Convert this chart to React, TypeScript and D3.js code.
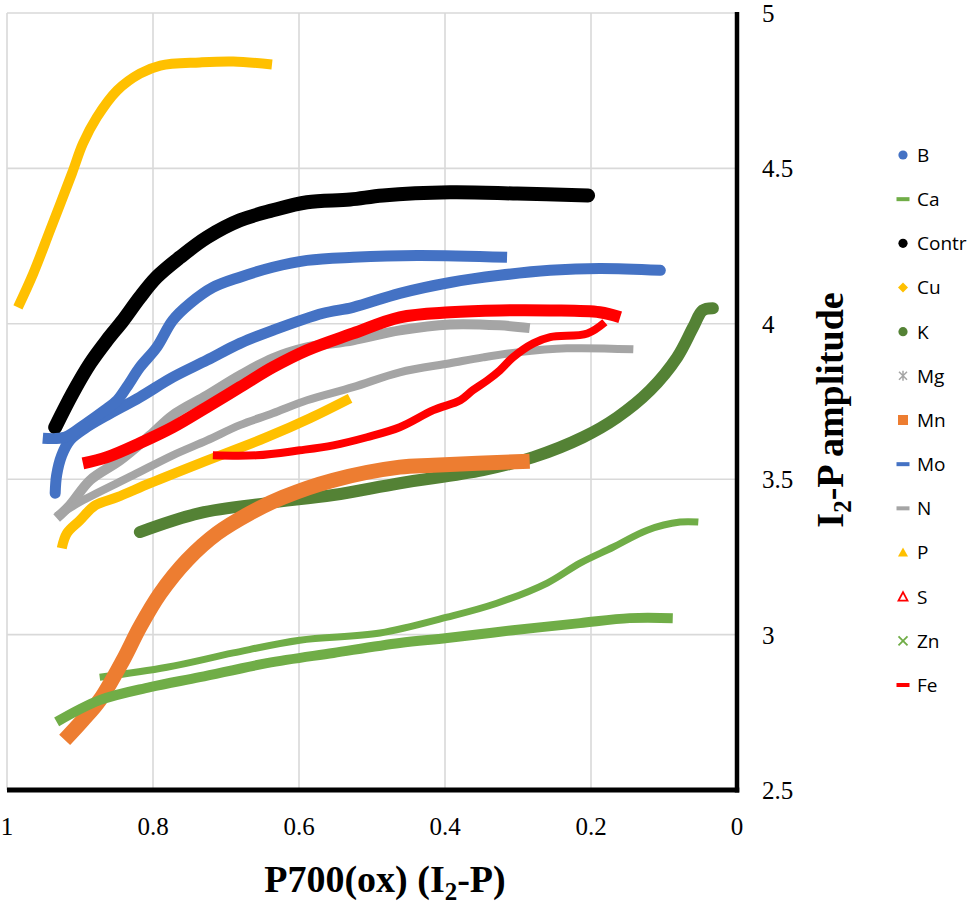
import React, { useEffect, useRef } from 'react';
import * as d3 from 'd3';

type Pt = [number, number];

// axis ticks
const xTicks = [1, 0.8, 0.6, 0.4, 0.2, 0];
const yTicks = [2.5, 3, 3.5, 4, 4.5, 5];

const seriesNames = ['B', 'Ca', 'Contr', 'Cu', 'K', 'Mg', 'Mn', 'Mo', 'N', 'P', 'S', 'Zn', 'Fe'];

// values: [P700(ox), I2-P amplitude]
const B: Pt[] = [
  [0.934, 3.455], [0.932, 3.513], [0.925, 3.577], [0.914, 3.625], [0.893, 3.664],
  [0.863, 3.706], [0.818, 3.764], [0.773, 3.828], [0.726, 3.883], [0.681, 3.937],
  [0.636, 3.979], [0.567, 4.034], [0.526, 4.053], [0.462, 4.098], [0.393, 4.133],
  [0.325, 4.156], [0.256, 4.172], [0.188, 4.178], [0.105, 4.172],
];
const Ca: Pt[] = [
  [0.873, 2.863], [0.781, 2.895], [0.690, 2.941], [0.599, 2.982], [0.489, 3.005],
  [0.397, 3.056], [0.329, 3.101], [0.260, 3.166], [0.215, 3.230], [0.170, 3.281],
  [0.123, 3.336], [0.078, 3.362], [0.053, 3.362],
];
const Contr: Pt[] = [
  [0.934, 3.667], [0.910, 3.777], [0.886, 3.873], [0.863, 3.947], [0.841, 4.011],
  [0.818, 4.085], [0.795, 4.150], [0.763, 4.214], [0.726, 4.278], [0.681, 4.333],
  [0.636, 4.365], [0.589, 4.391], [0.530, 4.400], [0.485, 4.413], [0.393, 4.423],
  [0.301, 4.419], [0.204, 4.413],
];
const Cu: Pt[] = [
  [0.925, 3.278], [0.918, 3.326], [0.900, 3.368], [0.879, 3.416], [0.849, 3.442],
  [0.804, 3.487], [0.736, 3.551], [0.644, 3.635], [0.585, 3.696], [0.530, 3.760],
];
const K: Pt[] = [
  [0.818, 3.330], [0.736, 3.391], [0.644, 3.423], [0.553, 3.449], [0.462, 3.487],
  [0.348, 3.529], [0.279, 3.571], [0.211, 3.635], [0.164, 3.699], [0.119, 3.786],
  [0.082, 3.892], [0.060, 3.989], [0.047, 4.043], [0.033, 4.050],
];
const Mg: Pt[] = [
  [0.932, 3.375], [0.914, 3.416], [0.886, 3.497], [0.845, 3.561], [0.804, 3.641],
  [0.773, 3.706], [0.726, 3.770], [0.681, 3.834], [0.636, 3.889], [0.589, 3.924],
  [0.526, 3.947], [0.462, 3.979], [0.393, 3.998], [0.325, 3.995], [0.284, 3.986],
];
const Mn: Pt[] = [
  [0.921, 2.661], [0.896, 2.725], [0.873, 2.789], [0.841, 2.918], [0.818, 3.024],
  [0.790, 3.133], [0.753, 3.240], [0.712, 3.326], [0.667, 3.391], [0.622, 3.442],
  [0.553, 3.497], [0.462, 3.539], [0.416, 3.545], [0.284, 3.558],
];
const Mo: Pt[] = [
  [0.951, 3.632], [0.921, 3.635], [0.893, 3.677], [0.866, 3.722], [0.849, 3.754],
  [0.836, 3.796], [0.818, 3.860], [0.795, 3.924], [0.773, 4.011], [0.749, 4.066],
  [0.718, 4.117], [0.681, 4.150], [0.636, 4.182], [0.589, 4.204], [0.526, 4.214],
  [0.438, 4.220], [0.315, 4.214],
];
const N: Pt[] = [
  [0.932, 3.381], [0.896, 3.432], [0.827, 3.513], [0.773, 3.577], [0.726, 3.625],
  [0.681, 3.674], [0.636, 3.712], [0.589, 3.754], [0.526, 3.796], [0.462, 3.844],
  [0.393, 3.873], [0.348, 3.892], [0.301, 3.908], [0.233, 3.921], [0.142, 3.918],
];
const P: Pt[] = [
  [0.985, 4.053], [0.964, 4.162], [0.941, 4.301], [0.911, 4.484], [0.896, 4.580],
  [0.877, 4.664], [0.849, 4.751], [0.818, 4.805], [0.790, 4.831], [0.736, 4.841],
  [0.690, 4.844], [0.637, 4.834],
];
const S: Pt[] = [
  [0.896, 3.551], [0.863, 3.571], [0.818, 3.616], [0.773, 3.667], [0.726, 3.732],
  [0.681, 3.796], [0.636, 3.860], [0.589, 3.915], [0.526, 3.969], [0.462, 4.021],
  [0.393, 4.037], [0.325, 4.043], [0.256, 4.043], [0.188, 4.037], [0.160, 4.021],
];
const Zn: Pt[] = [
  [0.932, 2.719], [0.873, 2.789], [0.804, 2.831], [0.736, 2.863], [0.644, 2.908],
  [0.553, 2.941], [0.462, 2.973], [0.397, 2.989], [0.307, 3.014], [0.215, 3.037],
  [0.147, 3.053], [0.088, 3.053],
];
const Fe: Pt[] = [
  [0.181, 4.005], [0.205, 3.969], [0.256, 3.957], [0.279, 3.937], [0.307, 3.892],
  [0.325, 3.850], [0.342, 3.818], [0.362, 3.786], [0.379, 3.754], [0.416, 3.722],
  [0.462, 3.667], [0.507, 3.635], [0.553, 3.609], [0.599, 3.593], [0.658, 3.577],
  [0.718, 3.577],
];

const seriesData: Record<string, Pt[]> = { B, Ca, Contr, Cu, K, Mg, Mn, Mo, N, P, S, Zn, Fe };

type Marker = 'circle' | 'dash' | 'diamond' | 'asterisk' | 'square' | 'triangle' | 'openTriangle' | 'cross';

const styles: Record<string, { color: string; width: number; marker: Marker }> = {
  B: { color: '#4472C4', width: 11, marker: 'circle' },
  Ca: { color: '#70AD47', width: 7, marker: 'dash' },
  Contr: { color: '#000000', width: 14, marker: 'circle' },
  Cu: { color: '#FFC000', width: 10, marker: 'diamond' },
  K: { color: '#548235', width: 12, marker: 'circle' },
  Mg: { color: '#A5A5A5', width: 10, marker: 'asterisk' },
  Mn: { color: '#ED7D31', width: 15, marker: 'square' },
  Mo: { color: '#4472C4', width: 11, marker: 'dash' },
  N: { color: '#A5A5A5', width: 8, marker: 'dash' },
  P: { color: '#FFC000', width: 10, marker: 'triangle' },
  S: { color: '#FF0000', width: 12, marker: 'openTriangle' },
  Zn: { color: '#70AD47', width: 10, marker: 'cross' },
  Fe: { color: '#FF0000', width: 8, marker: 'dash' },
};

const W = 975;
const H = 905;
const plot = { left: 7, right: 737, top: 13, bottom: 790 };
const serif = '"Liberation Serif", "Times New Roman", serif';
const sans = '"Open Sans", "Noto Sans", sans-serif';

const App: React.FC = () => {
  const svgRef = useRef<SVGSVGElement>(null);

  useEffect(() => {
    if (!svgRef.current) return;
    const svg = d3.select(svgRef.current);
    svg.selectAll('*').remove();

    const x = d3.scaleLinear().domain([1, 0]).range([plot.left, plot.right]);
    const y = d3.scaleLinear().domain([2.5, 5]).range([plot.bottom, plot.top]);

    // gridlines
    const grid = svg.append('g');
    grid.selectAll('line.vx')
      .data(xTicks.filter(t => t !== 0))
      .enter()
      .append('line')
      .attr('x1', d => x(d)).attr('x2', d => x(d))
      .attr('y1', plot.top).attr('y2', plot.bottom)
      .attr('stroke', '#d9d9d9').attr('stroke-width', 1.6);
    grid.selectAll('line.hy')
      .data(yTicks.filter(t => t !== 2.5))
      .enter()
      .append('line')
      .attr('x1', plot.left).attr('x2', plot.right)
      .attr('y1', d => y(d)).attr('y2', d => y(d))
      .attr('stroke', '#d9d9d9').attr('stroke-width', 1.6);

    // series
    const line = d3.line<Pt>()
      .x(d => x(d[0]))
      .y(d => y(d[1]))
      .curve(d3.curveCatmullRom.alpha(0.5));

    const g = svg.append('g');
    seriesNames.forEach(name => {
      const st = styles[name];
      g.append('path')
        .attr('d', line(seriesData[name]) || '')
        .attr('fill', 'none')
        .attr('stroke', st.color)
        .attr('stroke-width', st.width)
        .attr('stroke-linecap', st.marker === 'circle' ? 'round' : 'butt')
        .attr('stroke-linejoin', 'round');
    });

    // axes (thick black)
    svg.append('line')
      .attr('x1', plot.right).attr('x2', plot.right)
      .attr('y1', plot.top - 1).attr('y2', plot.bottom + 2.5)
      .attr('stroke', '#000').attr('stroke-width', 4.5);
    svg.append('line')
      .attr('x1', plot.left).attr('x2', plot.right + 2.25)
      .attr('y1', plot.bottom).attr('y2', plot.bottom)
      .attr('stroke', '#000').attr('stroke-width', 5);

    // tick labels
    svg.append('g').selectAll('text')
      .data(xTicks)
      .enter()
      .append('text')
      .attr('x', d => x(d))
      .attr('y', 835)
      .attr('text-anchor', 'middle')
      .style('font-family', serif)
      .style('font-size', '25px')
      .text(d => String(d));

    svg.append('g').selectAll('text')
      .data(yTicks)
      .enter()
      .append('text')
      .attr('x', 762)
      .attr('y', d => y(d))
      .attr('dy', '0.36em')
      .style('font-family', serif)
      .style('font-size', '25px')
      .text(d => String(d));

    // axis titles
    const xt = svg.append('text')
      .attr('x', 385)
      .attr('y', 892)
      .attr('text-anchor', 'middle')
      .style('font-family', serif)
      .style('font-weight', 'bold')
      .style('font-size', '38px');
    xt.append('tspan').text('P700(ox) (I');
    xt.append('tspan').attr('dy', 8).style('font-size', '25px').text('2');
    xt.append('tspan').attr('dy', -8).text('-P)');

    const yt = svg.append('text')
      .attr('transform', 'translate(843,410) rotate(-90)')
      .attr('text-anchor', 'middle')
      .style('font-family', serif)
      .style('font-weight', 'bold')
      .style('font-size', '38px');
    yt.append('tspan').text('I');
    yt.append('tspan').attr('dy', 8).style('font-size', '25px').text('2');
    yt.append('tspan').attr('dy', -8).text('-P amplitude');

    // legend
    const legY = d3.scalePoint<string>().domain(seriesNames).range([155, 685]);
    const leg = svg.append('g');
    seriesNames.forEach(name => {
      const st = styles[name];
      const cy = legY(name) as number;
      const cx = 903;
      const item = leg.append('g');
      switch (st.marker) {
        case 'circle':
          item.append('circle').attr('cx', cx).attr('cy', cy).attr('r', 4.6).attr('fill', st.color);
          break;
        case 'dash':
          item.append('rect').attr('x', cx - 6.5).attr('y', cy - 2).attr('width', 13).attr('height', 4).attr('fill', st.color);
          break;
        case 'diamond':
          item.append('path').attr('d', `M${cx},${cy - 5}L${cx + 5},${cy}L${cx},${cy + 5}L${cx - 5},${cy}Z`).attr('fill', st.color);
          break;
        case 'square':
          item.append('rect').attr('x', cx - 5).attr('y', cy - 5).attr('width', 10).attr('height', 10).attr('fill', st.color);
          break;
        case 'triangle':
          item.append('path').attr('d', `M${cx},${cy - 5}L${cx + 5},${cy + 4}L${cx - 5},${cy + 4}Z`).attr('fill', st.color);
          break;
        case 'openTriangle':
          item.append('path').attr('d', `M${cx},${cy - 4.5}L${cx + 4.5},${cy + 4}L${cx - 4.5},${cy + 4}Z`)
            .attr('fill', 'none').attr('stroke', st.color).attr('stroke-width', 1.8);
          break;
        case 'cross':
          item.append('path').attr('d', `M${cx - 4.5},${cy - 4.5}L${cx + 4.5},${cy + 4.5}M${cx + 4.5},${cy - 4.5}L${cx - 4.5},${cy + 4.5}`)
            .attr('stroke', st.color).attr('stroke-width', 1.8);
          break;
        case 'asterisk':
          item.append('path').attr('d', `M${cx - 4},${cy - 4}L${cx + 4},${cy + 4}M${cx + 4},${cy - 4}L${cx - 4},${cy + 4}M${cx},${cy - 5}L${cx},${cy + 5}`)
            .attr('stroke', st.color).attr('stroke-width', 1.5);
          break;
      }
      item.append('text')
        .attr('x', 917)
        .attr('y', cy)
        .attr('dy', '0.36em')
        .style('font-family', sans)
        .style('font-size', '19px')
        .style('fill', '#000')
        .text(name);
    });
  }, []);

  return (
    <div>
      <style>{'body{margin:0;background:#fff}'}</style>
      <svg ref={svgRef} width={W} height={H} style={{ display: 'block' }}></svg>
    </div>
  );
};

export default App;
